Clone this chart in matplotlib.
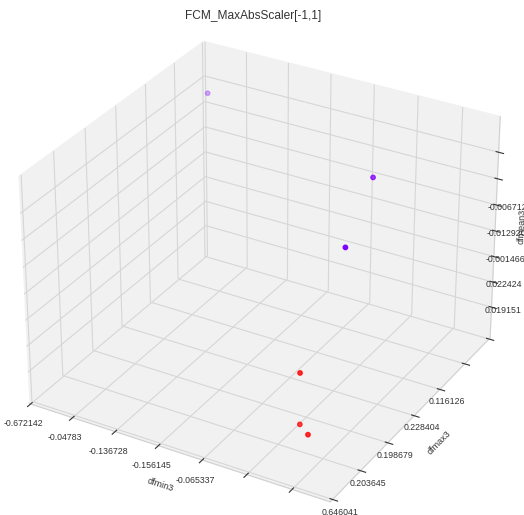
import matplotlib
matplotlib.use("Agg")
import matplotlib.pyplot as plt
import numpy as np

plt.rcParams['font.family'] = ['Liberation Sans', 'DejaVu Sans']

# cluster members (scaled features)
dfmin3 = [-0.655, -0.129, -0.055, -0.137, -0.156, -0.100]
dfmax3 = [0.646041, 0.415, 0.195, 0.176, 0.207, 0.146]
dfmean3 = [0.0200, 0.02535, 0.02438, 0.00042, -0.01145, -0.00865]
labels = [0, 0, 0, 1, 1, 1]

# tick texts as they were written onto the axes
xtick_text = ['-0.672142', '-0.04783', '-0.136728', '-0.156145', '-0.065337']
ytick_text = ['0.646041', '0.203645', '0.198679', '0.228404', '0.116126']
ztick_text = ['0.019151', '0.022424', '-0.001466', '-0.012920', '-0.006712']

# axis ranges and tick positions
xlim = (-0.703, -0.017)
ylim = (0.092, 0.705)
zlim = (-0.01615, 0.02665)
xticks = [-0.7, -0.6, -0.5, -0.4, -0.3, -0.2, -0.1]
yticks = [0.1, 0.2, 0.3, 0.4, 0.5, 0.6, 0.7]
zticks = [-0.010, -0.005, 0.0, 0.005, 0.010, 0.015, 0.020]

fig = plt.figure(figsize=(5.24, 5.15), dpi=100)
ax = fig.add_axes([-0.06, -0.04, 1.1, 1.04], projection='3d')

ax.scatter(dfmin3, dfmax3, dfmean3, c=labels, cmap='rainbow', s=10)

for axis in (ax.xaxis, ax.yaxis, ax.zaxis):
    axis._axinfo['grid']['color'] = '#d6d6d6'
    axis._axinfo['grid']['linewidth'] = 0.8
    axis.set_pane_color((0.945, 0.945, 0.945, 1.0))
    axis.line.set_color('#d0d0d0')


def fill(texts, n):
    return texts + [''] * (n - len(texts))


ax.set_xticks(xticks)
ax.set_xticklabels(fill(xtick_text, len(xticks)))
ax.set_yticks(yticks)
ax.set_yticklabels(fill(ytick_text, len(yticks)))
ax.set_zticks(zticks)
ax.set_zticklabels(fill(ztick_text, len(zticks)))
ax.set_xlim(xlim)
ax.set_ylim(ylim)
ax.set_zlim(zlim)

ax.tick_params(labelsize=6.3, colors='#333333', pad=0)
ax.tick_params(axis='y', pad=-3)
ax.tick_params(axis='z', pad=-3)
ax.set_xlabel('dfmin3', fontsize=6.5, labelpad=-4, color='#333333')
ax.set_ylabel('dfmax3', fontsize=6.5, labelpad=-4, color='#333333')
ax.set_zlabel('dfmean3', fontsize=6.5, labelpad=-9, color='#333333')
fig.text(0.484, 0.969, 'FCM_MaxAbsScaler[-1,1]', ha='center', va='center',
         fontsize=8.6, color='#333333')

fig.savefig('out.png', dpi=100)
